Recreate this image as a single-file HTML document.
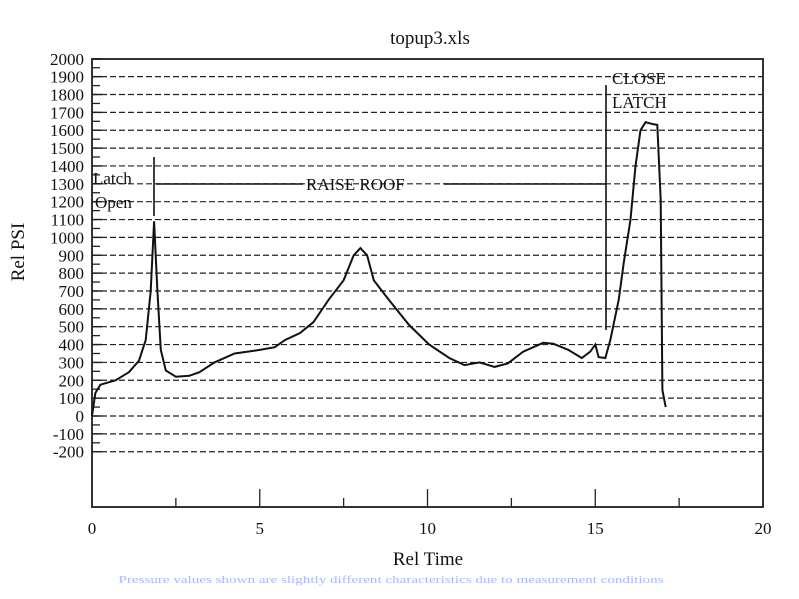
<!DOCTYPE html>
<html><head><meta charset="utf-8"><style>
body{margin:0;background:#fff;width:799px;height:594px;overflow:hidden}
svg text{font-family:"Liberation Serif",serif;fill:#111}
</style></head><body>
<svg id="chart" width="799" height="594" xmlns="http://www.w3.org/2000/svg">
<text x="430" y="44" font-size="19" text-anchor="middle">topup3.xls</text>
<text x="0" y="0" font-size="19" text-anchor="middle" transform="translate(24,252) rotate(-90)">Rel PSI</text>
<text x="428" y="565" font-size="19" text-anchor="middle">Rel Time</text>
<text x="391" y="583" font-size="10" text-anchor="middle" textLength="545" lengthAdjust="spacingAndGlyphs" style="fill:#a8b8ff">Pressure values shown are slightly different characteristics due to measurement conditions</text>
<g id="grid"></g><g id="axes"></g>
<path id="series" fill="none" stroke="#111" stroke-width="2"/>
<g stroke="#111" stroke-width="1.6">
<line x1="154" y1="157" x2="154" y2="216"/>
<line x1="156" y1="184" x2="303" y2="184"/>
<line x1="444" y1="184" x2="606" y2="184"/>
<line x1="606" y1="85" x2="606" y2="330"/>
</g>
<text x="93" y="184" font-size="17">Latch</text>
<text x="95" y="208" font-size="17">Open</text>
<text x="306" y="190" font-size="17">RAISE ROOF</text>
<text x="612" y="84" font-size="17">CLOSE</text>
<text x="612" y="108" font-size="17">LATCH</text>
</svg>
<script>
const times=[0,0.1,0.25,0.7,1.1,1.4,1.6,1.75,1.85,1.95,2.05,2.2,2.5,2.9,3.2,3.65,4.25,5,5.45,5.75,6.2,6.6,7.05,7.5,7.8,8.0,8.2,8.4,8.85,9.45,10.05,10.65,11.1,11.55,12,12.4,12.85,13.45,13.75,14.2,14.6,14.85,15.0,15.1,15.3,15.45,15.7,15.85,16.05,16.2,16.35,16.5,16.7,16.85,16.95,17.0,17.1];
const psi=[0,130,175,200,245,310,425,700,1090,700,370,255,220,225,245,300,350,370,385,425,465,525,650,760,900,940,900,760,650,510,400,325,285,300,275,295,360,410,405,370,325,360,400,330,325,425,650,860,1100,1400,1600,1645,1635,1630,1210,145,50];
const yTicks=[2000,1900,1800,1700,1600,1500,1400,1300,1200,1100,1000,900,800,700,600,500,400,300,200,100,0,-100,-200];
const xTicks=[0,5,10,15,20];
const X0=92,X1=763,Y0=416,YS=0.1786,YB=507,YT=59;
const xp=t=>X0+(X1-X0)*t/20;
const yp=v=>Y0-v*YS;
const NS='http://www.w3.org/2000/svg';
const grid=document.getElementById('grid'),axes=document.getElementById('axes');
function mk(tag,attrs,parent){const e=document.createElementNS(NS,tag);for(const k in attrs)e.setAttribute(k,attrs[k]);parent.appendChild(e);return e;}
const frame=mk('rect',{x:X0,y:YT,width:X1-X0,height:YB-YT,fill:'none',stroke:'#333','stroke-width':2},axes);


yTicks.forEach(v=>{
  const g=mk('line',{x1:X0,x2:X1,y1:yp(v),y2:yp(v),stroke:'#222','stroke-width':1.2,'stroke-dasharray':v===2000?'':'6,3'},grid);
  
  
  mk('line',{x1:X0,x2:X0+10,y1:yp(v),y2:yp(v),stroke:'#222','stroke-width':1.5},axes);
  if(v>-200){const m=mk('line',{x1:X0,x2:X0+8,y1:yp(v-50),y2:yp(v-50),stroke:'#222','stroke-width':1.3},axes);
  
  }
  const t=mk('text',{x:84,y:yp(v)+6,'font-size':17,'text-anchor':'end'},axes);
  
  
  t.textContent=v;
});
for(let t=2.5;t<20;t+=2.5){
  const major=(t%5===0);
  const l=mk('line',{x1:xp(t),x2:xp(t),y1:YB,y2:YB-(major?18:9),stroke:'#222','stroke-width':1.3},axes);
  
  
}
xTicks.forEach(t=>{
  const e=mk('text',{x:xp(t),y:534,'font-size':17,'text-anchor':'middle'},axes);
  
  
  e.textContent=t;
});
document.getElementById('series').setAttribute('d',times.map((t,i)=>(i?'L':'M')+xp(t).toFixed(1)+','+yp(psi[i]).toFixed(1)).join(' '));
</script>
</body></html>
